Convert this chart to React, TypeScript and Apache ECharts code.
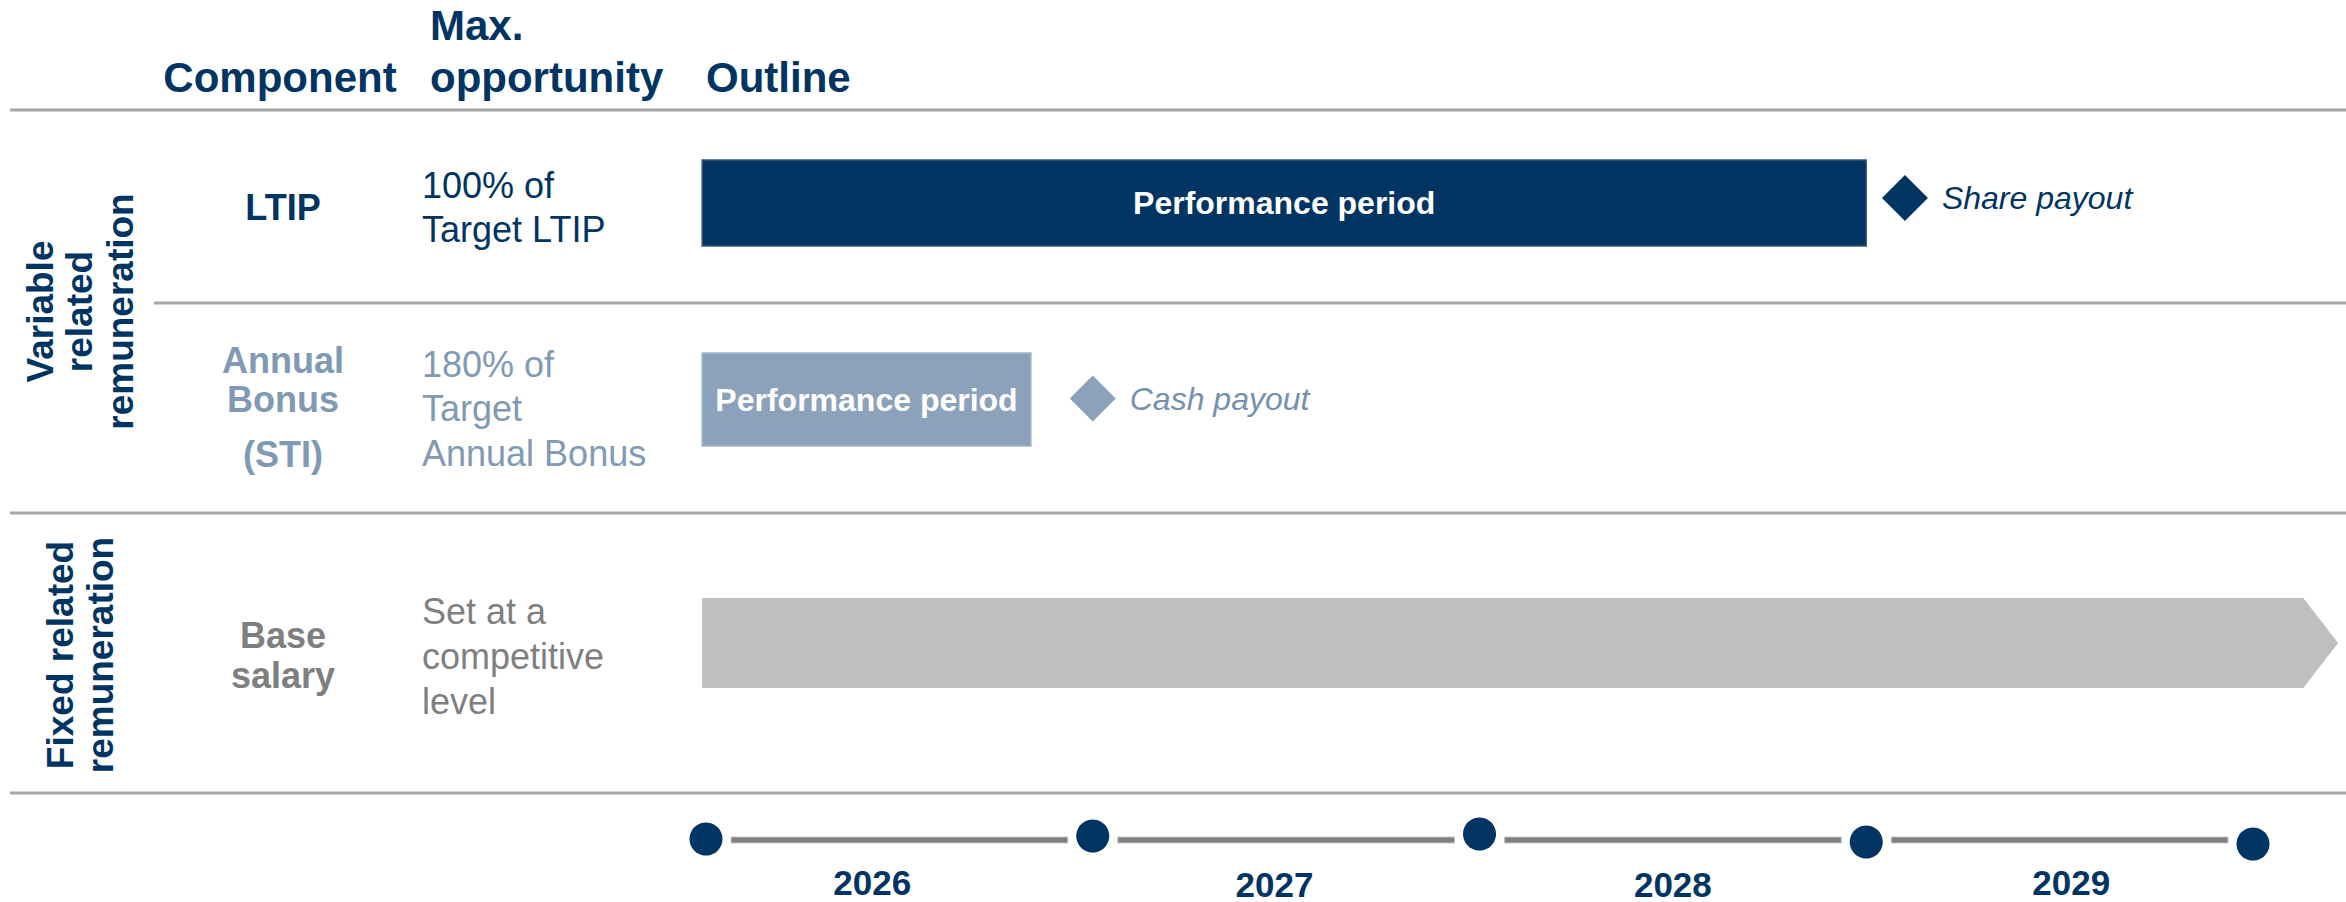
import React, { useEffect, useRef } from "react";
import * as echarts from "echarts";

// ---------- data ----------
const components = ["LTIP", "Annual Bonus (STI)", "Base salary"];
const periodStart = [2025.99, 2025.99, 2025.99];
const periodEnd = [2029.0, 2026.84, 2030.13];
const baseArrowTip = 2030.22;
const barLabels = ["Performance period", "Performance period", ""];
const payoutNames = ["Share payout", "Cash payout"];
const payoutAt = [2029.1, 2027.0];
const years = [2026, 2027, 2028, 2029];
const milestones = [2026, 2027, 2028, 2029, 2030];
const milestoneDrift = [-1, -4, -6, 2, 4];
const yearLabelAt = [2026.43, 2027.47, 2028.5, 2029.53];
const yearLabelDrift = [42, 44, 44, 42];

const headerLines = [["Component"], ["Max.", "opportunity"], ["Outline"]];
const componentLines = [["LTIP"], ["Annual", "Bonus", "(STI)"], ["Base", "salary"]];
const opportunityLines = [
  ["100% of", "Target LTIP"],
  ["180% of", "Target", "Annual Bonus"],
  ["Set at a", "competitive", "level"],
];
const groupLabels = [
  ["Variable", "related", "remuneration"],
  ["Fixed related", "remuneration"],
];

// ---------- styles / layout ----------
const NAVY = "#003462";
const BONUS_TEXT = "#8099B5";
const BONUS_BAR = "#8CA2BB";
const GREY_TEXT = "#7F7F7F";
const BASE_BAR = "#BFBFBF";
const SEP = "#A6A6A6";
const rowText = [NAVY, BONUS_TEXT, GREY_TEXT];
const rowBar = [NAVY, BONUS_BAR, BASE_BAR];
const SANS = '"Liberation Sans", Arial, sans-serif';

const X_MIN = 2025.8;
const X_MAX = 2030.2;
const GRID_LEFT = 628.65;
const GRID_RIGHT = 15.65;
const barGrids = [
  { top: 160, height: 86 },
  { top: 353, height: 93 },
  { top: 598, height: 90 },
];
const timelineGrid = { top: 800, height: 100 };
const diamondOffsets = [-5, -1];

const headerLayout = [
  { x: 280, ys: [77], align: "center" },
  { x: 430, ys: [25, 77], align: "left" },
  { x: 706, ys: [77], align: "left" },
];
const componentYs = [[207.5], [360, 399.5, 454.5], [635, 675.5]];
const opportunityYs = [[185, 229.5], [364.5, 408.5, 453.5], [611.5, 656.5, 701.5]];
const groupLayout = [
  { xs: [40, 79, 120], y: 311.5 },
  { xs: [60, 100], y: 655 },
];
const separators = [
  { y: 110, x1: 10 },
  { y: 303, x1: 154 },
  { y: 513, x1: 10 },
  { y: 793, x1: 10 },
];

function txt(text: string, x: number, y: number, font: string, fill: string, align = "left", rotation = 0) {
  return {
    type: "text",
    x,
    y,
    rotation,
    style: {
      text,
      x: 0,
      y: 0,
      font,
      fill,
      align,
      verticalAlign: "middle",
      textAlign: align,
      textVerticalAlign: "middle",
    },
  };
}

function buildOption() {
  const graphics: any[] = [];
  separators.forEach((s) =>
    graphics.push({
      type: "line",
      shape: { x1: s.x1, y1: s.y, x2: 2346, y2: s.y },
      style: { stroke: SEP, lineWidth: 3 },
    })
  );
  headerLines.forEach((lines, i) =>
    lines.forEach((t, j) =>
      graphics.push(txt(t, headerLayout[i].x, headerLayout[i].ys[j], `bold 42px ${SANS}`, NAVY, headerLayout[i].align))
    )
  );
  componentLines.forEach((lines, i) =>
    lines.forEach((t, j) => graphics.push(txt(t, 283, componentYs[i][j], `bold 36px ${SANS}`, rowText[i], "center")))
  );
  opportunityLines.forEach((lines, i) =>
    lines.forEach((t, j) => graphics.push(txt(t, 422, opportunityYs[i][j], `36px ${SANS}`, rowText[i], "left")))
  );
  groupLabels.forEach((lines, i) =>
    lines.forEach((t, j) =>
      graphics.push(txt(t, groupLayout[i].xs[j], groupLayout[i].y, `bold 37px ${SANS}`, NAVY, "center", Math.PI / 2))
    )
  );

  const grids: any[] = barGrids.map((g) => ({ left: GRID_LEFT, right: GRID_RIGHT, top: g.top, height: g.height }));
  grids.push({ left: GRID_LEFT, right: GRID_RIGHT, top: timelineGrid.top, height: timelineGrid.height });

  const xAxis = grids.map((_, i) => ({ type: "value", gridIndex: i, min: X_MIN, max: X_MAX, show: false }));
  const yAxis: any[] = barGrids.map((_, i) => ({
    type: "category",
    gridIndex: i,
    data: [components[i]],
    show: false,
  }));
  yAxis.push({ type: "value", gridIndex: 3, min: -40, max: 60, inverse: true, show: false });

  const series: any[] = [];
  components.forEach((name, i) => {
    const isArrow = i === 2;
    series.push({
      type: "custom",
      name,
      xAxisIndex: i,
      yAxisIndex: i,
      clip: false,
      encode: { x: [0, 1], y: 2 },
      data: [[periodStart[i], periodEnd[i], 0, isArrow ? baseArrowTip : periodEnd[i]]],
      renderItem: (params: any, api: any) => {
        const a = api.coord([api.value(0), 0]);
        const b = api.coord([api.value(1), 0]);
        const tip = api.coord([api.value(3), 0]);
        const h = api.size([0, 1])[1];
        const top = a[1] - h / 2;
        const children: any[] = [];
        if (isArrow) {
          children.push({
            type: "polygon",
            shape: {
              points: [
                [a[0], top],
                [b[0], top],
                [tip[0], a[1]],
                [b[0], top + h],
                [a[0], top + h],
              ],
            },
            style: { fill: rowBar[i] },
          });
        } else {
          children.push({
            type: "rect",
            shape: { x: a[0], y: top, width: b[0] - a[0], height: h },
            style: { fill: rowBar[i], stroke: i === 0 ? "#3B5878" : "#A3B4C8", lineWidth: 1.5 },
          });
        }
        if (barLabels[i]) {
          children.push({
            type: "text",
            style: {
              text: barLabels[i],
              x: (a[0] + b[0]) / 2,
              y: a[1],
              font: `bold 32px ${SANS}`,
              fill: "#FFFFFF",
              align: "center",
              verticalAlign: "middle",
              textAlign: "center",
              textVerticalAlign: "middle",
            },
          });
        }
        return { type: "group", children };
      },
    });
  });

  payoutNames.forEach((name, i) => {
    series.push({
      type: "scatter",
      name,
      xAxisIndex: i,
      yAxisIndex: i,
      symbol: "diamond",
      symbolSize: [46, 46],
      symbolOffset: [0, diamondOffsets[i]],
      itemStyle: { color: rowBar[i], opacity: 1 },
      data: [[payoutAt[i], 0]],
      label: {
        show: true,
        position: "right",
        distance: 14,
        formatter: name,
        color: i === 0 ? NAVY : "#7690B0",
        fontFamily: SANS,
        fontStyle: "italic",
        fontSize: 32,
      },
    });
  });

  // timeline segments
  series.push({
    type: "custom",
    name: "timeline",
    xAxisIndex: 3,
    yAxisIndex: 3,
    clip: false,
    data: years.map((y) => [y, y + 1]),
    encode: { x: [0, 1] },
    renderItem: (params: any, api: any) => {
      const a = api.coord([api.value(0), 0]);
      const b = api.coord([api.value(1), 0]);
      return {
        type: "rect",
        shape: { x: a[0] + 25, y: a[1] - 3, width: b[0] - a[0] - 50, height: 6 },
        style: { fill: "#7F7F7F", stroke: "#C4C4C4", lineWidth: 1 },
      };
    },
  });
  series.push({
    type: "scatter",
    name: "milestones",
    xAxisIndex: 3,
    yAxisIndex: 3,
    symbol: "circle",
    symbolSize: 33,
    itemStyle: { color: NAVY, opacity: 1 },
    data: milestones.map((m, i) => [m, milestoneDrift[i]]),
    z: 3,
  });
  series.push({
    type: "custom",
    name: "years",
    xAxisIndex: 3,
    yAxisIndex: 3,
    clip: false,
    data: years.map((y, i) => [yearLabelAt[i], yearLabelDrift[i], y]),
    encode: { x: 0, y: 1 },
    renderItem: (params: any, api: any) => {
      const p = api.coord([api.value(0), api.value(1)]);
      return {
        type: "text",
        style: {
          text: String(api.value(2)),
          x: p[0],
          y: p[1],
          font: `bold 35px ${SANS}`,
          fill: NAVY,
          align: "center",
          verticalAlign: "middle",
          textAlign: "center",
          textVerticalAlign: "middle",
        },
      };
    },
  });

  return {
    animation: false,
    backgroundColor: "#FFFFFF",
    grid: grids,
    xAxis,
    yAxis,
    series,
    graphic: { elements: graphics },
  };
}

export default function App() {
  const ref = useRef<HTMLDivElement>(null);
  useEffect(() => {
    document.body.style.margin = "0";
    if (!ref.current) return;
    const chart = echarts.init(ref.current, undefined, { renderer: "svg" });
    chart.setOption(buildOption() as any);
    return () => chart.dispose();
  }, []);
  return <div ref={ref} style={{ width: 2346, height: 902 }} />;
}
